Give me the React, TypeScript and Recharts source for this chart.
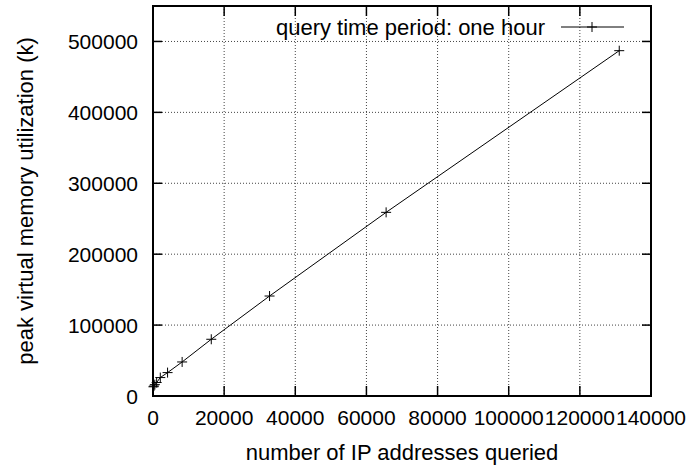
import React from "react";
import {
  LineChart,
  Line,
  XAxis,
  YAxis,
  CartesianGrid,
  ReferenceArea,
  Legend,
  Label,
} from "recharts";

// IP addresses queried vs. peak virtual memory (k)
const ipCounts = [128, 256, 512, 1024, 2048, 4096, 8192, 16384, 32768, 65536, 131072];
const peakMemory = [13000, 14000, 16000, 19000, 26000, 33000, 48000, 80000, 141000, 259000, 487000];
const xTicks = [0, 20000, 40000, 60000, 80000, 100000, 120000, 140000];
const yTicks = [0, 100000, 200000, 300000, 400000, 500000];
const seriesName = "query time period: one hour";
const xTitle = "number of IP addresses queried";
const yTitle = "peak virtual memory utilization (k)";

const W = 692;
const H = 466;
const MARGIN = { top: 6, right: 41, left: 0, bottom: 0 };
const Y_AXIS_W = 153;
const X_AXIS_H = 70;
const PLOT_W = W - MARGIN.left - MARGIN.right - Y_AXIS_W;
const PLOT_H = H - MARGIN.top - MARGIN.bottom - X_AXIS_H;
const FONT = "'Liberation Sans', Arial, Helvetica, sans-serif";

const data = ipCounts.map((ips, i) => ({ ips, mem: peakMemory[i] }));

const Plus = (props: any) => {
  const { cx, cy } = props;
  if (cx == null || cy == null) return null;
  return (
    <g>
      <line x1={cx - 5} y1={cy} x2={cx + 5} y2={cy} stroke="#000" strokeWidth={1} />
      <line x1={cx} y1={cy - 5} x2={cx} y2={cy + 5} stroke="#000" strokeWidth={1} />
    </g>
  );
};

// bottom tick + mirrored top tick, both pointing inward
const XTick = (props: any) => {
  const { x, y, payload } = props;
  return (
    <g>
      <line x1={x} y1={y} x2={x} y2={y - 10} stroke="#000" strokeWidth={1.5} />
      <line x1={x} y1={y - PLOT_H} x2={x} y2={y - PLOT_H + 10} stroke="#000" strokeWidth={1.5} />
      <text x={x} y={y + 29} textAnchor="middle" fontSize={21} fontFamily={FONT} fill="#000">
        {payload.value}
      </text>
    </g>
  );
};

const YTick = (props: any) => {
  const { x, y, payload } = props;
  return (
    <g>
      <line x1={x} y1={y} x2={x + 9} y2={y} stroke="#000" strokeWidth={1.5} />
      <line x1={x + PLOT_W} y1={y} x2={x + PLOT_W - 9} y2={y} stroke="#000" strokeWidth={1.5} />
      <text x={x - 15} y={y + 7.5} textAnchor="end" fontSize={21} fontFamily={FONT} fill="#000">
        {payload.value}
      </text>
    </g>
  );
};

const XTitle = (props: any) => {
  const { viewBox } = props;
  return (
    <text
      x={viewBox.x + viewBox.width / 2}
      y={viewBox.y + 64}
      textAnchor="middle"
      fontSize={22}
      fontFamily={FONT}
      fill="#000"
    >
      {xTitle}
    </text>
  );
};

const YTitle = (props: any) => {
  const { viewBox } = props;
  const cx = viewBox.x + 33;
  const cy = viewBox.y + viewBox.height / 2;
  return (
    <text
      x={cx}
      y={cy}
      transform={`rotate(-90 ${cx} ${cy})`}
      textAnchor="middle"
      fontSize={22}
      fontFamily={FONT}
      fill="#000"
    >
      {yTitle}
    </text>
  );
};

const LegendBox = () => (
  <svg width={W} height={40} style={{ display: "block" }}>
    <text x={545} y={35} textAnchor="end" fontSize={22} fontFamily={FONT} fill="#000">
      {seriesName}
    </text>
    <line x1={561} y1={27} x2={624} y2={27} stroke="#000" strokeWidth={1} />
    <line x1={587} y1={27} x2={597} y2={27} stroke="#000" strokeWidth={1} />
    <line x1={592} y1={22} x2={592} y2={32} stroke="#000" strokeWidth={1} />
  </svg>
);

const App = () => {
  return (
    <div style={{ position: "absolute", left: 0, top: 0, background: "#fff" }}>
      <LineChart width={W} height={H} data={data} margin={MARGIN}>
        <CartesianGrid stroke="#444" strokeDasharray="1 2" />
        <XAxis
          dataKey="ips"
          type="number"
          domain={[0, 140000]}
          ticks={xTicks}
          interval={0}
          height={X_AXIS_H}
          tickLine={false}
          axisLine={false}
          tickSize={0}
          tickMargin={0}
          tick={<XTick />}
        >
          <Label content={<XTitle />} />
        </XAxis>
        <YAxis
          type="number"
          domain={[0, 550000]}
          ticks={yTicks}
          interval={0}
          width={Y_AXIS_W}
          tickLine={false}
          axisLine={false}
          tickSize={0}
          tickMargin={0}
          tick={<YTick />}
        >
          <Label content={<YTitle />} />
        </YAxis>
        <ReferenceArea
          x1={0}
          x2={140000}
          y1={0}
          y2={550000}
          fill="none"
          fillOpacity={0}
          stroke="#000"
          strokeWidth={2}
        />
        <Legend
          layout="horizontal"
          verticalAlign="middle"
          align="center"
          wrapperStyle={{ top: 0, left: 0, width: W }}
          content={<LegendBox />}
        />
        <Line
          type="linear"
          dataKey="mem"
          name={seriesName}
          stroke="#000"
          strokeWidth={1}
          dot={<Plus />}
          activeDot={false}
          isAnimationActive={false}
        />
      </LineChart>
    </div>
  );
};

export default App;
